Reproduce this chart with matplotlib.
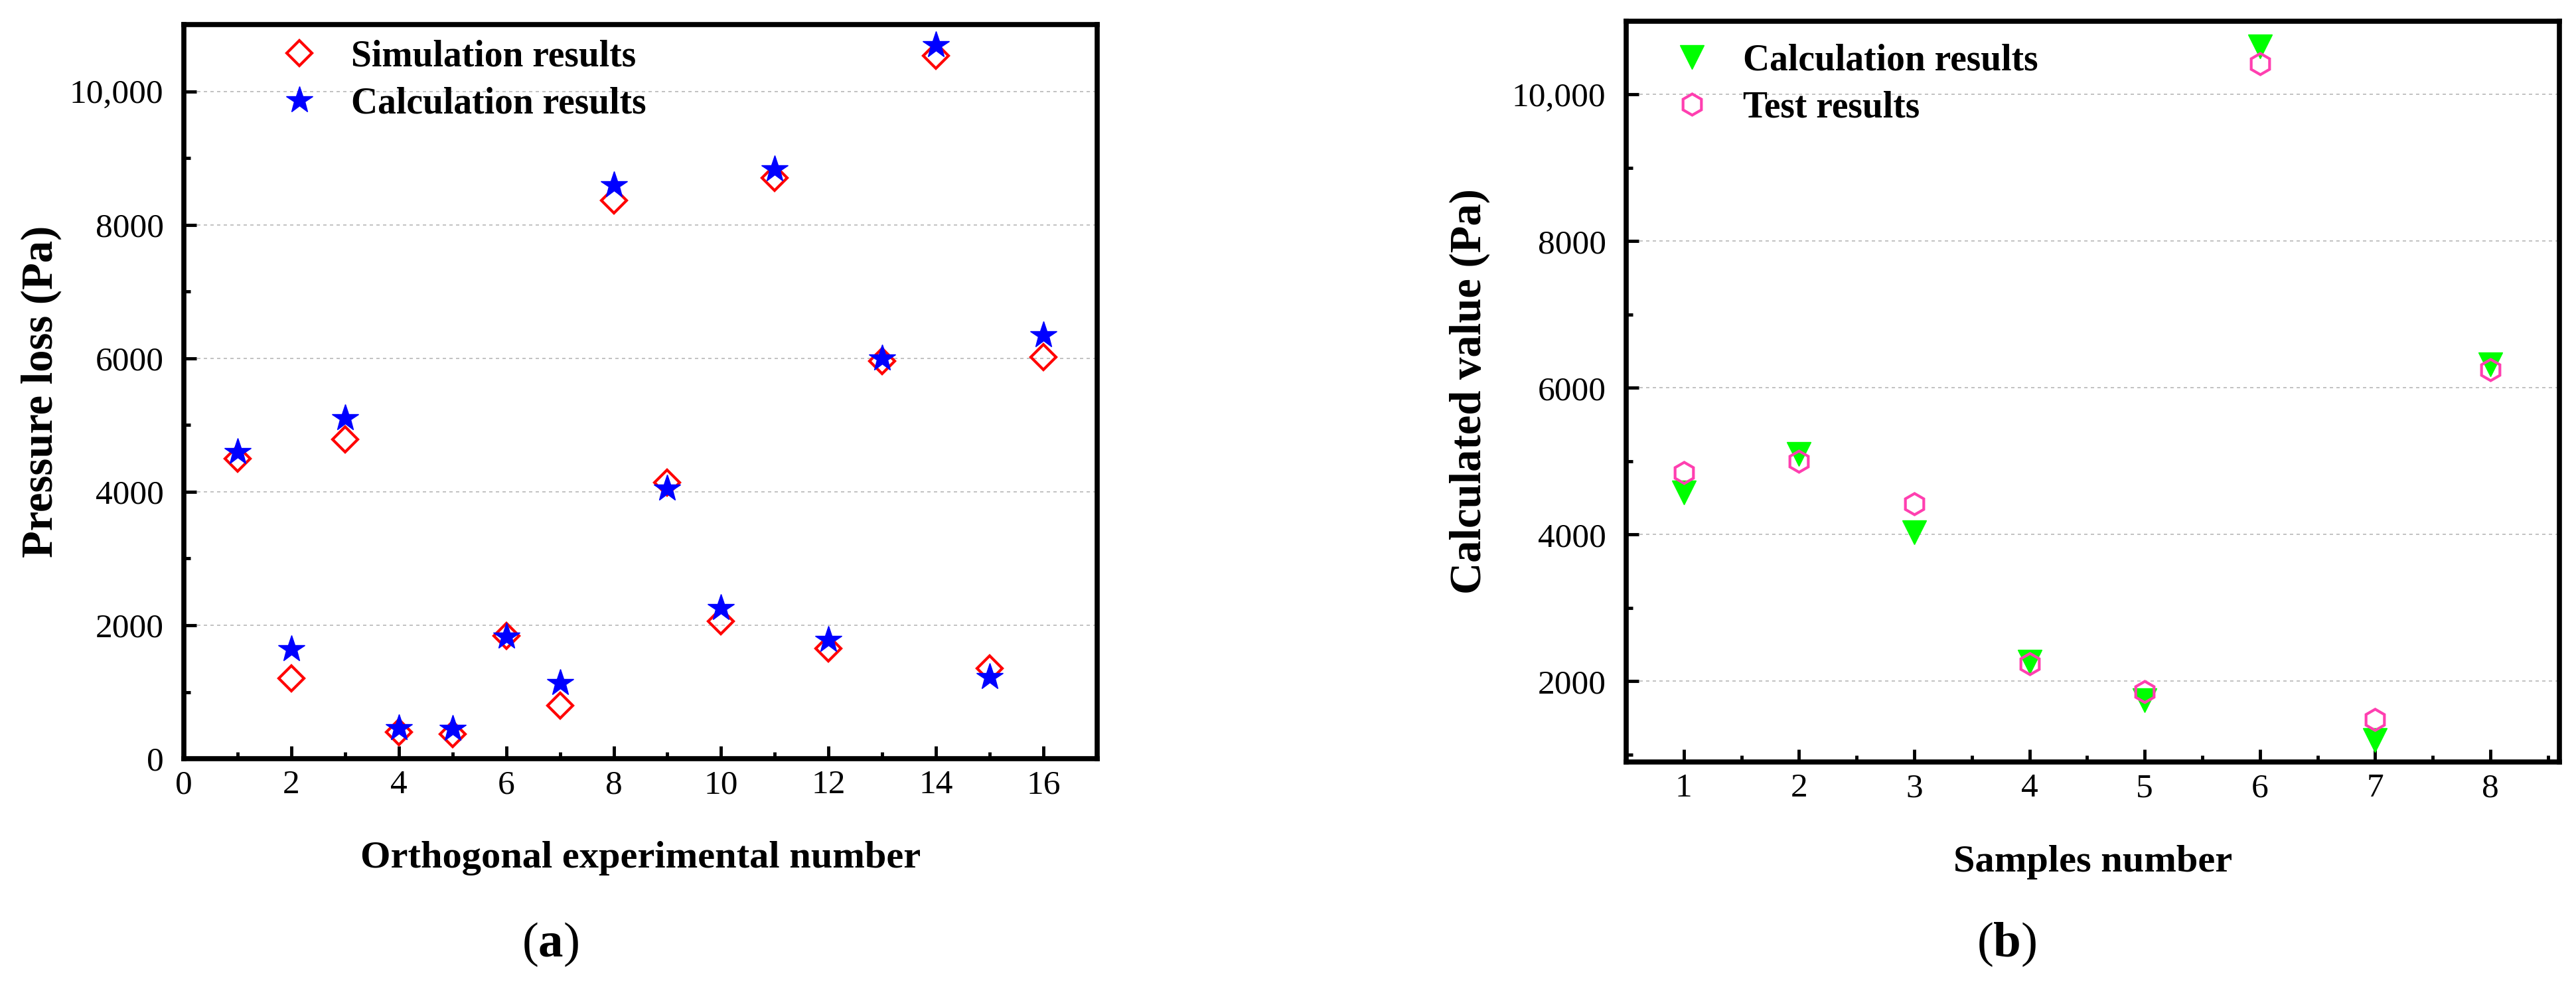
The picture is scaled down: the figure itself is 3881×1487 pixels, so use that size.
import numpy as np
import matplotlib.pyplot as plt
from matplotlib.ticker import FuncFormatter, MultipleLocator

plt.switch_backend("Agg")
plt.rcParams["font.family"] = ["Liberation Serif", "DejaVu Serif"]
plt.rcParams["mathtext.fontset"] = "custom"
plt.rcParams["mathtext.rm"] = "Liberation Serif"
plt.rcParams["mathtext.bf"] = "Liberation Serif:bold"

# (a) orthogonal experiments
exp_no = np.arange(1, 17)
sim_results = [4500, 1200, 4780, 400, 370, 1840, 800, 8360, 4140, 2060, 8700, 1650, 5960, 10530, 1350, 6020]
calc_results_a = [4600, 1640, 5100, 460, 450, 1830, 1130, 8590, 4050, 2260, 8830, 1780, 6000, 10690, 1220, 6350]

# (b) samples
sample_no = np.arange(1, 9)
calc_results_b = [4570, 5100, 4030, 2270, 1740, 10660, 1200, 6320]
test_results = [4850, 5000, 4420, 2240, 1860, 10420, 1480, 6250]


def thousands(v, pos):
    return f"{v:,.0f}" if v >= 10000 else f"{v:.0f}"


def style(ax):
    for s in ax.spines.values():
        s.set_linewidth(5.5)
    ax.tick_params(which="major", direction="in", length=14, width=3.5, labelsize=37, pad=12)
    ax.tick_params(which="minor", direction="in", length=7, width=3.5)
    ax.tick_params(axis="y", pad=22)
    ax.yaxis.set_major_locator(MultipleLocator(2000))
    ax.yaxis.set_minor_locator(MultipleLocator(1000))
    ax.yaxis.set_major_formatter(FuncFormatter(thousands))
    ax.grid(axis="y", which="major", linestyle=(0, (3, 3)), color="#b8b8b8", linewidth=1.2)
    ax.set_axisbelow(True)


fig = plt.figure(figsize=(38.81, 14.87), dpi=100)
ax1 = fig.add_axes([0.0714, 0.2313, 0.3545, 0.7438])
ax2 = fig.add_axes([0.6313, 0.228, 0.3623, 0.7505])

ax1.plot(exp_no, sim_results, "D", ls="none", ms=19, mfc="none", mec="#ff0000", mew=3,
         label="Simulation results")
ax1.plot(exp_no, calc_results_a, "*", ls="none", ms=30, color="#0000ff", mec="#0000ff",
         label="Calculation results")
ax1.set_xlim(0, 17)
ax1.set_ylim(0, 11000)
ax1.xaxis.set_major_locator(MultipleLocator(2))
ax1.xaxis.set_minor_locator(MultipleLocator(1))
style(ax1)
ax1.set_xlabel("Orthogonal experimental number", fontsize=42, fontweight="bold")
ax1.set_ylabel("Pressure loss (Pa)", fontsize=48, fontweight="bold")
ax1.xaxis.set_label_coords(0.5, -0.112)
ax1.yaxis.set_label_coords(-0.134, 0.5)
ax1.legend(loc="upper left", bbox_to_anchor=(0.05, 1.025), frameon=False,
           prop={"size": 40, "weight": "bold"}, handletextpad=0.4, labelspacing=0.35)

ax2.plot(sample_no, calc_results_b, "v", ls="none", ms=26, color="#00ff00", mec="#00ff00",
         label="Calculation results")
ax2.plot(sample_no, test_results, "h", ls="none", ms=23, mfc="none", mec="#ff3fb0", mew=3,
         label="Test results")
ax2.set_xlim(0.5, 8.6)
ax2.set_ylim(900, 11000)
ax2.xaxis.set_major_locator(MultipleLocator(1))
ax2.xaxis.set_minor_locator(MultipleLocator(0.5))
style(ax2)
ax2.set_xlabel("Samples number", fontsize=42, fontweight="bold")
ax2.set_ylabel("Calculated value (Pa)", fontsize=48, fontweight="bold")
ax2.xaxis.set_label_coords(0.5, -0.112)
ax2.yaxis.set_label_coords(-0.146, 0.5)
ax2.legend(loc="upper left", bbox_to_anchor=(-0.005, 1.015), frameon=False,
           prop={"size": 40, "weight": "bold"}, handletextpad=0.4, labelspacing=0.35)

fig.text(0.2137, 0.043, r"($\mathbf{a}$)", fontsize=54, ha="center", va="center")
fig.text(0.779, 0.043, r"($\mathbf{b}$)", fontsize=54, ha="center", va="center")

fig.savefig("out.png", dpi=100)
